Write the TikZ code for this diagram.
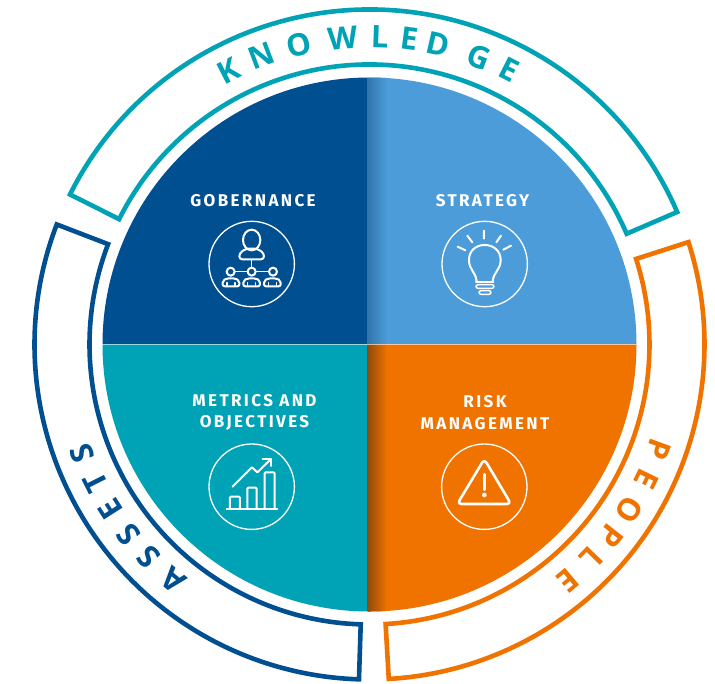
\documentclass[tikz,border=0pt]{standalone}
\usepackage{fontspec}
\setmainfont{Fira Sans}
\newfontfamily\ringfont{Open Sans}
\newfontfamily\labfont[LetterSpace=14]{Fira Sans}
\definecolor{cteal}{HTML}{00A3B5}
\definecolor{cnavy}{HTML}{004F91}
\definecolor{csky}{HTML}{4C9CD9}
\definecolor{corange}{HTML}{F07300}
\tikzset{
  ringband/.style={line width=4.6pt,line join=miter},
  ringletter/.style={font=\ringfont\fontsize{31}{31}\selectfont\bfseries,inner sep=0pt,anchor=center},
  quadlabel/.style={font=\labfont\fontsize{17}{21.4}\selectfont\bfseries,text=white,align=center,inner sep=0pt,anchor=center},
  iconring/.style={draw=white,line width=1.3pt},
  iconline/.style={draw=white,line width=2pt,line cap=round,line join=round},
  iconfine/.style={draw=white,line width=1.5pt,line cap=round,line join=round}
}
\begin{document}
\begin{tikzpicture}[x=1pt,y=-1pt]
\useasboundingbox (0,0) rectangle (715,683);
\fill[white] (0,0) rectangle (715,683);
% quadrants
\begin{scope}
  \clip (369.5,344.5) circle[radius=267];
  \fill[cnavy] (100,70) rectangle (367,344);
  \fill[csky] (367,70) rectangle (640,344);
  \fill[cteal] (100,344) rectangle (367,615);
  \fill[corange] (367,344) rectangle (640,615);
  \shade[left color=cnavy!55!csky!85!gray,right color=csky] (367,70) rectangle (387,344);
  \shade[left color=corange!55!black!85!brown,right color=corange] (367,344) rectangle (387,615);
  \draw[white,opacity=.6,line width=.8pt] (100,344.3) -- (640,344.3);
\end{scope}
% rings and letters
\begin{scope}[shift={(369.5,344.5)},x=1pt,y=1pt]
  \draw[cteal,ringband] (153.4:335) arc[start angle=153.4,end angle=23.3,radius=335] -- (23.3:280) arc[start angle=23.3,end angle=153.4,radius=280] -- cycle;
  \draw[cnavy,ringband] (159:335) arc[start angle=159,end angle=268.2,radius=335] -- (268.2:280) arc[start angle=268.2,end angle=159,radius=280] -- cycle;
  \draw[corange,ringband] (17.8:335) arc[start angle=17.8,end angle=-86.7,radius=335] -- (-86.7:280) arc[start angle=-86.7,end angle=17.8,radius=280] -- cycle;
  \foreach \a/\l [count=\i] in {117.2/K,110.5/N,103.3/O,95/W,88.1/L,82.5/E,77.1/D,69.1/G,63.1/E}
    \node[ringletter,text=cteal,rotate=\a-90] (know\i) at (\a:308) {\l};
  \foreach \a/\l [count=\i] in {230.2/A,223.9/S,218.3/S,212.5/E,206.7/T,200.8/S}
    \node[ringletter,text=cnavy,rotate=\a-90] (asset\i) at (\a:307) {\l};
  \foreach \a/\l [count=\i] in {-20/P,-25.9/E,-32.4/O,-38.4/P,-44/L,-50/E}
    \node[ringletter,text=corange,rotate=\a-90] (people\i) at (\a:308) {\l};
\end{scope}
% labels
\node[quadlabel] (gov) at (253,200.7) {GOBERNANCE};
\node[quadlabel] (str) at (482.5,200.7) {STRATEGY};
\node[quadlabel] (met) at (254.5,412.5) {METRICS AND\\OBJECTIVES};
\node[quadlabel] (risk) at (485,412.5) {RISK\\MANAGEMENT};
% icon rings
\draw[iconring] (251.7,264) circle[radius=42.7];
\draw[iconring] (484.7,264) circle[radius=42.7];
\draw[iconring] (251.7,486.7) circle[radius=42.7];
\draw[iconring] (484.3,486.7) circle[radius=42.7];
% people icon
\begin{scope}[shift={(170,180)},x=.3333pt,y=-.3333pt]
  \draw[iconline] (245,180) ellipse[x radius=26,y radius=31];
  \draw[iconline,rounded corners=3pt] (208,238) -- (208,220) -- (228,206) -- (262,206) -- (282,220) -- (282,238) -- cycle;
  \draw[iconfine] (245,238) -- (245,262) (195,275) -- (232,275) (258,275) -- (296,275);
  \foreach \x in {182,245,309} \draw[iconline] (\x,275) circle[radius=12];
  \foreach \x in {183,245,307} {
    \draw[iconline,rounded corners=2pt] (\x-25,319) -- (\x-25,302) -- (\x-12,295) -- (\x+12,295) -- (\x+25,302) -- (\x+25,319) -- cycle;
    \draw[iconfine] (\x-12,319) -- (\x-12,308) (\x+12,319) -- (\x+12,308);
  }
\end{scope}
% bulb icon
\begin{scope}[shift={(410,180)},x=.3333pt,y=-.3333pt]
  \draw[iconline] (200,304) .. controls (197,275) and (177,270) .. (177,240) .. controls (177,212) and (198,195) .. (224,195) .. controls (250,195) and (272,212) .. (272,240) .. controls (272,270) and (251,275) .. (248,304);
  \draw[iconline] (198,305) -- (250,305);
  \draw[iconline] (222,152) -- (222,176) (172,167) -- (187,187) (273,167) -- (259,187) (143,200) -- (166,211) (303,197) -- (280,209);
  \draw[iconfine,rounded corners=2pt] (198,314) rectangle (252,325);
  \draw[iconfine,rounded corners=2pt] (207,332) rectangle (243,343);
\end{scope}
% chart icon
\begin{scope}[shift={(170,385)},x=.3333pt,y=-.3333pt]
  \draw[iconline,rounded corners=1pt] (180,372) -- (180,335) -- (210,335) -- (210,372);
  \draw[iconline,rounded corners=1pt] (232,372) -- (232,308) -- (260,308) -- (260,372);
  \draw[iconline,rounded corners=1pt] (284,372) -- (284,262) -- (314,262) -- (314,372);
  \draw[iconline] (170,373) -- (322,373);
  \draw[iconline] (188,305) -- (246,247) -- (262,262) -- (303,222);
  \draw[iconline] (278,222) -- (303,222) -- (303,243);
\end{scope}
% warning icon
\begin{scope}[shift={(410,385)},x=.3333pt,y=-.3333pt]
  \draw[draw=white,line width=2.6pt,line join=round,rounded corners=4pt] (223,222) -- (142,357) -- (303,357) -- cycle;
  \draw[draw=white,line width=3pt,line cap=round] (223,268) -- (223,314);
  \fill[white] (223,330) circle[radius=7];
\end{scope}
\end{tikzpicture}
\end{document}
